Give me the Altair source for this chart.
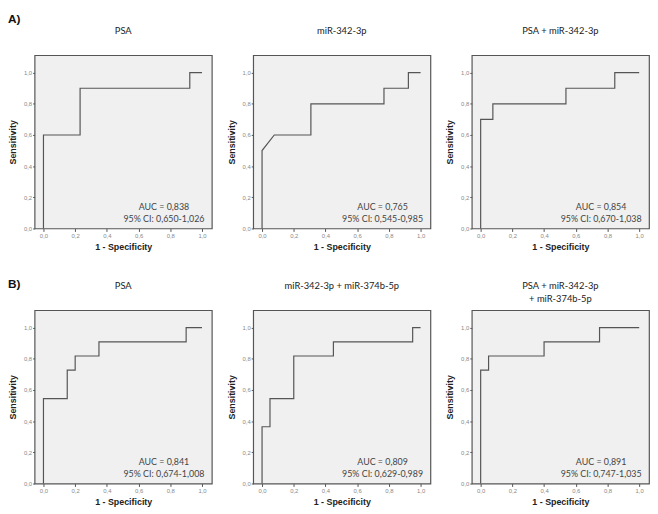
import altair as alt
import pandas as pd

panel_titles = [
    ["PSA", " "],
    ["miR-342-3p", " "],
    ["PSA + miR-342-3p", " "],
    ["PSA", " "],
    ["miR-342-3p + miR-374b-5p", " "],
    ["PSA + miR-342-3p", "+ miR-374b-5p"],
]

fprs = [
    [0, 0, 0.231, 0.231, 0.923, 0.923, 1],
    [0, 0, 0.077, 0.308, 0.308, 0.769, 0.769, 0.923, 0.923, 1],
    [0, 0, 0.077, 0.077, 0.538, 0.538, 0.846, 0.846, 1],
    [0, 0, 0.15, 0.15, 0.2, 0.2, 0.35, 0.35, 0.9, 0.9, 1],
    [0, 0, 0.05, 0.05, 0.2, 0.2, 0.45, 0.45, 0.95, 0.95, 1],
    [0, 0, 0.05, 0.05, 0.4, 0.4, 0.75, 0.75, 1],
]
tprs = [
    [0, 0.6, 0.6, 0.9, 0.9, 1, 1],
    [0, 0.5, 0.6, 0.6, 0.8, 0.8, 0.9, 0.9, 1, 1],
    [0, 0.7, 0.7, 0.8, 0.8, 0.9, 0.9, 1, 1],
    [0, 0.545, 0.545, 0.727, 0.727, 0.818, 0.818, 0.909, 0.909, 1, 1],
    [0, 0.364, 0.364, 0.545, 0.545, 0.818, 0.818, 0.909, 0.909, 1, 1],
    [0, 0.727, 0.727, 0.818, 0.818, 0.909, 0.909, 1, 1],
]
aucs = ["0,838", "0,765", "0,854", "0,841", "0,809", "0,891"]
cis = ["0,650-1,026", "0,545-0,985", "0,670-1,038", "0,674-1,008", "0,629-0,989", "0,747-1,035"]
tick_values = [0, 0.2, 0.4, 0.6, 0.8, 1.0]
row_labels = ["A)", "B)"]

label_expr = "replace(format(datum.value, '.1f'), '.', ',')"

xscale = alt.Scale(domain=[-0.056, 1.062], nice=False, zero=False)
yscale = alt.Scale(domain=[0, 1.112], nice=False, zero=False)

common_axis = dict(values=tick_values, labelExpr=label_expr, grid=False, domain=False,
                   tickColor="#555", tickWidth=1, labelFontSize=6, labelColor="#888",
                   labelOverlap=False,
                   titleFont="Liberation Sans", titleFontSize=9, titleFontWeight="bold",
                   titleColor="#222")
xaxis = alt.Axis(title="1 - Specificity", tickSize=3, labelPadding=1, titlePadding=4, **common_axis)
yaxis = alt.Axis(title="Sensitivity", tickSize=2, labelPadding=1, titlePadding=6, **common_axis)


def panel(i):
    df = pd.DataFrame({"fpr": fprs[i], "tpr": tprs[i], "step": list(range(len(fprs[i])))})
    line = alt.Chart(df).mark_line(color="#555", strokeWidth=1.2).encode(
        x=alt.X("fpr:Q", scale=xscale, axis=xaxis),
        y=alt.Y("tpr:Q", scale=yscale, axis=yaxis),
        order="step:Q",
    )
    tdf = pd.DataFrame({"label": [f"AUC = {aucs[i]}\n95% CI: {cis[i]}"]})
    text = alt.Chart(tdf).mark_text(
        lineBreak="\n", align="center", baseline="top", font="Lato", fontSize=9,
        color="#444", lineHeight=12,
    ).encode(
        x=alt.XDatum(0.76, scale=xscale, axis=xaxis),
        y=alt.YDatum(0.163, scale=yscale, axis=yaxis),
        text="label:N",
    )
    return alt.layer(line, text).properties(
        width=180, height=176,
        title=alt.Title(text=panel_titles[i], font="Lato", fontSize=9.5, fontWeight="normal",
                        color="#222", offset=7, lineHeight=13),
    )


rows = []
for r in range(2):
    rows.append(alt.hconcat(
        *[panel(r * 3 + c) for c in range(3)], spacing=14,
        title=alt.Title(text=row_labels[r], anchor="start", font="Liberation Sans",
                        fontSize=12, fontWeight="bold", color="#111",
                        offset=0, dy=0 if r == 0 else 11),
    ))

chart = alt.vconcat(*rows, spacing=26).properties(
    padding=0, background="white"
).configure_view(
    stroke="#555", strokeWidth=1.2, fill="#f0f0f0"
)

chart.save("out.html", embed_options={"renderer": "svg", "actions": False})
